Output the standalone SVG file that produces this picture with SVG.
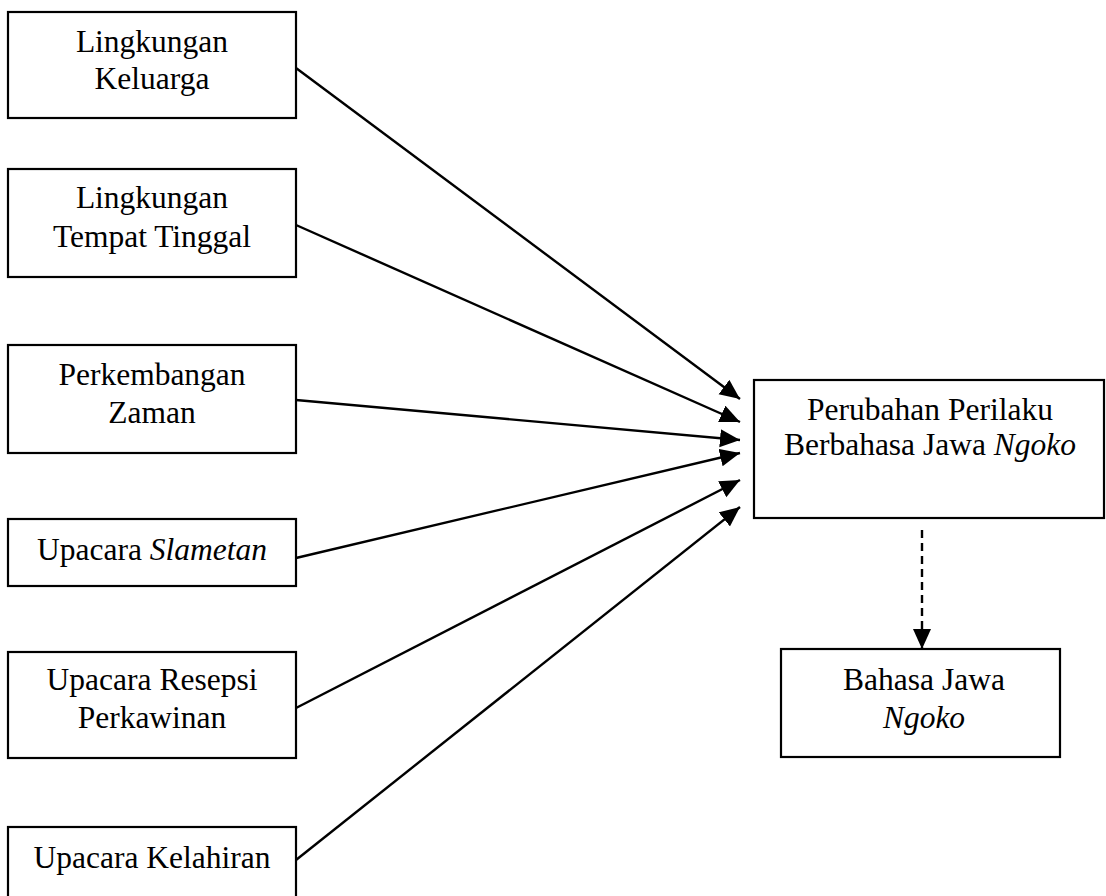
<svg xmlns="http://www.w3.org/2000/svg" width="1106" height="896" viewBox="0 0 1106 896">
<style>
.box{fill:#fff;stroke:#000;stroke-width:2.2}
.t{font-family:"Liberation Serif","Times New Roman",serif;font-size:31.5px;fill:#000;text-anchor:middle}
.i{font-style:italic}
.c{stroke:#000;stroke-width:2.4;fill:none}
.d{stroke-dasharray:8 5}
</style>
<defs>
<marker id="ah" markerUnits="userSpaceOnUse" markerWidth="22" markerHeight="20" refX="20" refY="9" orient="auto">
<path d="M0,0 L20,9 L0,18 z" fill="#000"/>
</marker>
</defs>
<rect width="1106" height="896" fill="#fff"/>
<g id="connectors">
<line class="c" x1="296" y1="68" x2="740" y2="399" marker-end="url(#ah)"/>
<line class="c" x1="296" y1="225" x2="740" y2="422" marker-end="url(#ah)"/>
<line class="c" x1="296" y1="400" x2="740" y2="440" marker-end="url(#ah)"/>
<line class="c" x1="296" y1="558" x2="740" y2="453" marker-end="url(#ah)"/>
<line class="c" x1="296" y1="708" x2="740" y2="480" marker-end="url(#ah)"/>
<line class="c" x1="296" y1="860" x2="740" y2="507" marker-end="url(#ah)"/>
<line class="c d" x1="922" y1="530" x2="922" y2="649" marker-end="url(#ah)"/>
</g>
<g id="n1"><rect class="box" x="8" y="12" width="288" height="106"/><text class="t" x="152" y="52">Lingkungan</text><text class="t" x="152" y="89">Keluarga</text></g>
<g id="n2"><rect class="box" x="8" y="169" width="288" height="108"/><text class="t" x="152" y="208">Lingkungan</text><text class="t" x="152" y="247">Tempat Tinggal</text></g>
<g id="n3"><rect class="box" x="8" y="345" width="288" height="108"/><text class="t" x="152" y="385">Perkembangan</text><text class="t" x="152" y="423">Zaman</text></g>
<g id="n4"><rect class="box" x="8" y="519" width="288" height="67"/><text class="t" x="152" y="560">Upacara <tspan class="i">Slametan</tspan></text></g>
<g id="n5"><rect class="box" x="8" y="652" width="288" height="106"/><text class="t" x="152" y="690">Upacara Resepsi</text><text class="t" x="152" y="728">Perkawinan</text></g>
<g id="n6"><rect class="box" x="8" y="827" width="288" height="90"/><text class="t" x="152" y="868">Upacara Kelahiran</text></g>
<g id="n7"><rect class="box" x="754" y="380" width="350" height="138"/><text class="t" x="930" y="420">Perubahan Perilaku</text><text class="t" x="930" y="455">Berbahasa Jawa <tspan class="i">Ngoko</tspan></text></g>
<g id="n8"><rect class="box" x="781" y="649" width="279" height="108"/><text class="t" x="924" y="690">Bahasa Jawa</text><text class="t i" x="924" y="728">Ngoko</text></g>
</svg>
